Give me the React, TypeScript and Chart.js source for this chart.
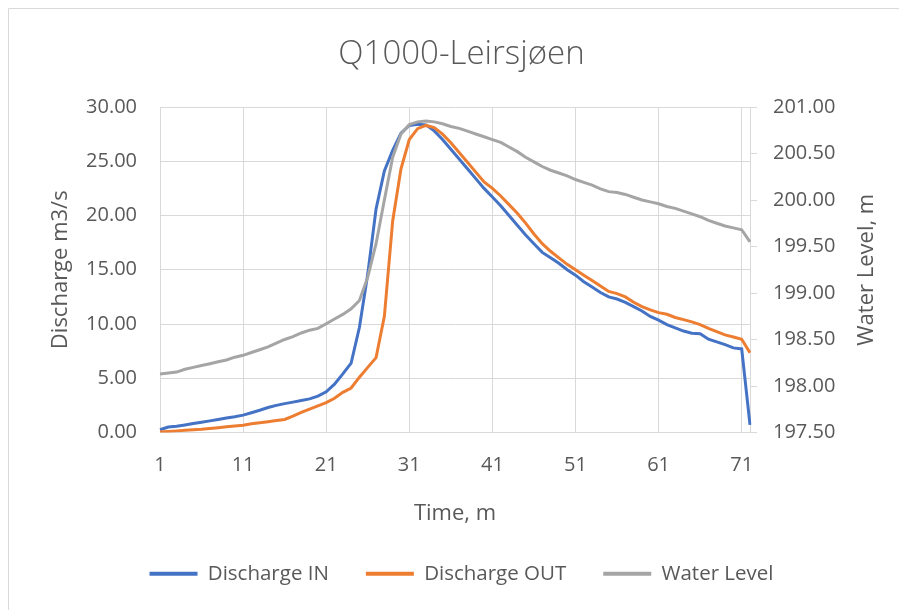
import React, { useEffect, useRef } from "react";
import { Chart, registerables } from "chart.js";

Chart.register(...registerables);

const timeLabels: string[] = Array.from({ length: 72 }, (_, i) => String(i + 1));

const dischargeIn: number[] = [
  0.25, 0.5, 0.58, 0.7, 0.83, 0.95, 1.07, 1.2, 1.33, 1.45,
  1.6, 1.82, 2.05, 2.3, 2.5, 2.66, 2.8, 2.95, 3.1, 3.35,
  3.75, 4.45, 5.4, 6.4, 9.7, 14.6, 20.6, 24.1, 26.0, 27.6,
  28.3, 28.4, 28.35, 27.8, 27.0, 26.1, 25.2, 24.3, 23.4, 22.5,
  21.7, 20.9, 20.0, 19.1, 18.2, 17.4, 16.6, 16.1, 15.6, 15.0,
  14.5, 13.9, 13.4, 12.9, 12.5, 12.3, 12.0, 11.6, 11.2, 10.7,
  10.35, 9.95, 9.65, 9.35, 9.15, 9.1, 8.6, 8.35, 8.1, 7.8,
  7.7, 0.7,
];

const dischargeOut: number[] = [
  0.05, 0.1, 0.15, 0.2, 0.25, 0.3, 0.37, 0.44, 0.52, 0.6,
  0.67, 0.8, 0.9, 1.0, 1.1, 1.2, 1.5, 1.85, 2.15, 2.45,
  2.75, 3.15, 3.7, 4.1, 5.1, 6.0, 6.9, 10.7, 19.5, 24.3,
  27.0, 28.0, 28.3, 28.1, 27.5, 26.7, 25.8, 24.9, 24.0, 23.1,
  22.5, 21.8, 21.0, 20.2, 19.3, 18.3, 17.4, 16.7, 16.1, 15.5,
  15.0, 14.5, 14.0, 13.5, 13.0, 12.8, 12.5, 12.0, 11.6, 11.3,
  11.05, 10.9, 10.6, 10.4, 10.2, 9.95, 9.6, 9.3, 9.0, 8.8,
  8.6, 7.35,
];

const waterLevel: number[] = [
  198.13, 198.14, 198.15, 198.18, 198.2, 198.22, 198.24, 198.26, 198.28, 198.31,
  198.33, 198.36, 198.39, 198.42, 198.46, 198.5, 198.53, 198.57, 198.6, 198.62,
  198.67, 198.72, 198.77, 198.83, 198.92, 199.17, 199.53, 200.0, 200.46, 200.71,
  200.81, 200.84, 200.85, 200.84, 200.82, 200.79, 200.77, 200.74, 200.71, 200.68,
  200.65, 200.62, 200.57, 200.52, 200.46, 200.41, 200.36, 200.32, 200.29, 200.26,
  200.22, 200.19, 200.16, 200.12, 200.09, 200.08, 200.06, 200.03, 200.0, 199.98,
  199.96, 199.93, 199.91, 199.88, 199.85, 199.82, 199.78, 199.75, 199.72, 199.7,
  199.68, 199.55,
];

const titleText = "Q1000-Leirsjøen";
const leftAxisTitle = "Discharge m3/s";
const rightAxisTitle = "Water Level, m";
const xAxisTitle = "Time, m";
const seriesNames = ["Discharge IN", "Discharge OUT", "Water Level"];
const seriesColors = ["#4472C4", "#ED7D31", "#A5A5A5"];

const FONT = "'Open Sans', 'Noto Sans', sans-serif";
const TEXT = "#595959";
const GRID = "#d9d9d9";

const framePlugin = {
  id: "frame",
  beforeDraw(chart: any) {
    const { ctx, width, height } = chart;
    ctx.save();
    ctx.fillStyle = "#ffffff";
    ctx.fillRect(0, 0, width, height);
    ctx.strokeStyle = GRID;
    ctx.lineWidth = 1;
    ctx.beginPath();
    ctx.moveTo(8.5, height);
    ctx.lineTo(8.5, 8.5);
    ctx.lineTo(width, 8.5);
    ctx.stroke();
    ctx.restore();
  },
};

const rightTitlePlugin = {
  id: "rightTitle",
  afterDraw(chart: any) {
    const { ctx, chartArea } = chart;
    const cy = (chartArea.top + chartArea.bottom) / 2;
    ctx.save();
    ctx.translate(867, cy);
    ctx.rotate(-Math.PI / 2);
    ctx.fillStyle = TEXT;
    ctx.font = `22px ${FONT}`;
    ctx.textAlign = "center";
    ctx.textBaseline = "middle";
    ctx.fillText(rightAxisTitle, 0, 0);
    ctx.restore();
  },
};

export default function App() {
  const canvasRef = useRef<HTMLCanvasElement | null>(null);

  useEffect(() => {
    const canvas = canvasRef.current;
    if (!canvas) return;
    const chart = new Chart(canvas, {
      type: "line",
      data: {
        labels: timeLabels,
        datasets: [
          {
            label: seriesNames[0],
            data: dischargeIn,
            borderColor: seriesColors[0],
            backgroundColor: seriesColors[0],
            borderWidth: 3,
            pointRadius: 0,
            tension: 0,
            yAxisID: "y",
            order: 2,
          },
          {
            label: seriesNames[1],
            data: dischargeOut,
            borderColor: seriesColors[1],
            backgroundColor: seriesColors[1],
            borderWidth: 3,
            pointRadius: 0,
            tension: 0,
            yAxisID: "y",
            order: 1,
          },
          {
            label: seriesNames[2],
            data: waterLevel,
            borderColor: seriesColors[2],
            backgroundColor: seriesColors[2],
            borderWidth: 3,
            pointRadius: 0,
            tension: 0,
            yAxisID: "y1",
            order: 0,
          },
        ],
      },
      options: {
        responsive: false,
        animation: false,
        devicePixelRatio: 1,
        layout: { padding: { left: 24, right: 0, top: 0, bottom: 16 } },
        plugins: {
          title: {
            display: true,
            text: titleText,
            color: TEXT,
            font: { family: FONT, size: 33, weight: "300" as any },
            padding: { top: 35.2, bottom: 32.2 },
          },
          legend: {
            display: true,
            position: "bottom",
            labels: {
              color: TEXT,
              font: { family: FONT, size: 20.5 },
              boxWidth: 48,
              boxHeight: 4,
              padding: 37,
              sort: (a: any, b: any) => a.datasetIndex - b.datasetIndex,
              generateLabels: (ch: any) => {
                const items = Chart.defaults.plugins.legend.labels.generateLabels(ch);
                return items.map((it: any) => ({
                  ...it,
                  fillStyle: it.strokeStyle,
                  lineWidth: 0,
                }));
              },
            },
          },
          tooltip: { enabled: false },
        },
        scales: {
          x: {
            type: "category",
            offset: false,
            afterFit: (s: any) => {
              s.height = 94;
            },
            grid: {
              color: GRID,
              drawTicks: false,
              lineWidth: 1,
            },
            border: { color: GRID, width: 1 },
            ticks: {
              autoSkip: false,
              maxRotation: 0,
              minRotation: 0,
              color: TEXT,
              font: { family: FONT, size: 20 },
              padding: 21,
              callback: (_v: any, idx: number) => (idx % 10 === 0 ? timeLabels[idx] : null),
            },
            title: {
              display: true,
              text: xAxisTitle,
              color: TEXT,
              font: { family: FONT, size: 22 },
              padding: { top: 21, bottom: 0 },
            },
          },
          y: {
            position: "left",
            min: 0,
            max: 30,
            afterFit: (s: any) => {
              s.width = 136;
            },
            grid: { color: GRID, drawTicks: false, lineWidth: 1 },
            border: { color: GRID, width: 1 },
            ticks: {
              stepSize: 5,
              color: TEXT,
              font: { family: FONT, size: 20 },
              padding: 23,
              callback: (v: any) => Number(v).toFixed(2),
            },
            title: {
              display: true,
              text: leftAxisTitle,
              color: TEXT,
              font: { family: FONT, size: 22 },
              padding: { top: 23.8, bottom: 0 },
            },
          },
          y1: {
            position: "right",
            min: 197.5,
            max: 201,
            afterFit: (s: any) => {
              s.width = 149;
            },
            grid: {
              drawOnChartArea: false,
              color: GRID,
              drawTicks: true,
              tickLength: 7,
            },
            border: { color: GRID, width: 1 },
            ticks: {
              stepSize: 0.5,
              color: TEXT,
              font: { family: FONT, size: 20 },
              padding: 16,
              callback: (v: any) => Number(v).toFixed(2),
            },
            title: { display: false },
          },
        },
      },
      plugins: [framePlugin, rightTitlePlugin],
    });
    return () => chart.destroy();
  }, []);

  return (
    <div style={{ position: "fixed", left: 0, top: 0, width: 899, height: 610, background: "#fff" }}>
      <canvas ref={canvasRef} width={899} height={610} style={{ display: "block", width: 899, height: 610 }} />
    </div>
  );
}
